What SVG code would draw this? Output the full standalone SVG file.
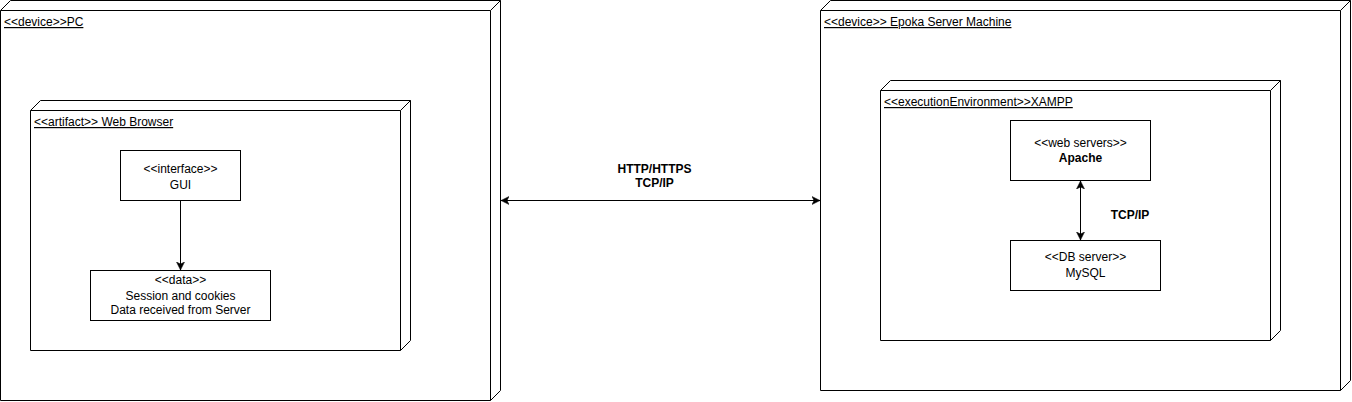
<svg xmlns="http://www.w3.org/2000/svg" width="1352" height="402" viewBox="0 0 1352 402">
<style>
.n{fill:#fff;stroke:#000;stroke-width:1}
.t{font-family:"Liberation Sans",Arial,sans-serif;font-size:12px;fill:#000}
.u{text-decoration:underline}
.c{text-anchor:middle}
.b{font-weight:bold}
.e{fill:none;stroke:#000;stroke-width:1}
</style>
<defs>
<marker id="ah" markerUnits="userSpaceOnUse" markerWidth="9" markerHeight="9" refX="8" refY="4.5" orient="auto-start-reverse" viewBox="0 0 9 9">
<path d="M0,0.5 L8,4.5 L0,8.5 L2,4.5 z" fill="#000" stroke="#000" stroke-width="0.5"/>
</marker>
</defs>
<rect width="1352" height="402" fill="#fff"/>
<g id="pc">
<path class="n" d="M0.5,10.5 L10.5,0.5 L500.5,0.5 L500.5,390.5 L490.5,400.5 L0.5,400.5 Z"/>
<path class="e" d="M0.5,10.5 L490.5,10.5 L500.5,0.5 M490.5,10.5 L490.5,400.5"/>
<text class="t u" x="4" y="26">&lt;&lt;device&gt;&gt;PC</text>
</g>
<g id="browser">
<path class="n" d="M30.5,110.5 L40.5,100.5 L410.5,100.5 L410.5,340.5 L400.5,350.5 L30.5,350.5 Z"/>
<path class="e" d="M30.5,110.5 L400.5,110.5 L410.5,100.5 M400.5,110.5 L400.5,350.5"/>
<text class="t u" x="34" y="126">&lt;&lt;artifact&gt;&gt; Web Browser</text>
</g>
<g id="gui">
<rect class="n" x="120.5" y="150.5" width="120" height="50"/>
<text class="t c" x="180.5" y="172.5">&lt;&lt;interface&gt;&gt;</text>
<text class="t c" x="180.5" y="188.5">GUI</text>
</g>
<g id="data">
<rect class="n" x="90.5" y="270.5" width="180" height="50"/>
<text class="t c" x="180.5" y="284">&lt;&lt;data&gt;&gt;</text>
<text class="t c" x="180.5" y="299.5">Session and cookies</text>
<text class="t c" x="180.5" y="314">Data received from Server</text>
</g>
<g id="server">
<path class="n" d="M820.5,10.5 L830.5,0.5 L1350.5,0.5 L1350.5,380.5 L1340.5,390.5 L820.5,390.5 Z"/>
<path class="e" d="M820.5,10.5 L1340.5,10.5 L1350.5,0.5 M1340.5,10.5 L1340.5,390.5"/>
<text class="t u" x="824" y="26">&lt;&lt;device&gt;&gt; Epoka Server Machine</text>
</g>
<g id="xampp">
<path class="n" d="M880.5,90.5 L890.5,80.5 L1280.5,80.5 L1280.5,330.5 L1270.5,340.5 L880.5,340.5 Z"/>
<path class="e" d="M880.5,90.5 L1270.5,90.5 L1280.5,80.5 M1270.5,90.5 L1270.5,340.5"/>
<text class="t u" x="884" y="106">&lt;&lt;executionEnvironment&gt;&gt;XAMPP</text>
</g>
<g id="apache">
<rect class="n" x="1010.5" y="120.5" width="140" height="60"/>
<text class="t c" x="1080.5" y="147">&lt;&lt;web servers&gt;&gt;</text>
<text class="t c b" x="1080.5" y="162">Apache</text>
</g>
<g id="mysql">
<rect class="n" x="1010.5" y="240.5" width="150" height="50"/>
<text class="t c" x="1085.5" y="260.5">&lt;&lt;DB server&gt;&gt;</text>
<text class="t c" x="1085.5" y="277">MySQL</text>
</g>
<g id="connectors">
<line class="e" x1="180.5" y1="200.5" x2="180.5" y2="270" marker-end="url(#ah)"/>
<line class="e" x1="501" y1="200.5" x2="820" y2="200.5" marker-start="url(#ah)" marker-end="url(#ah)"/>
<line class="e" x1="1080.5" y1="181" x2="1080.5" y2="240" marker-start="url(#ah)" marker-end="url(#ah)"/>
<text class="t c b" x="654.5" y="172.5">HTTP/HTTPS</text>
<text class="t c b" x="654.5" y="186.5">TCP/IP</text>
<text class="t c b" x="1130" y="218.5">TCP/IP</text>
</g>
</svg>
